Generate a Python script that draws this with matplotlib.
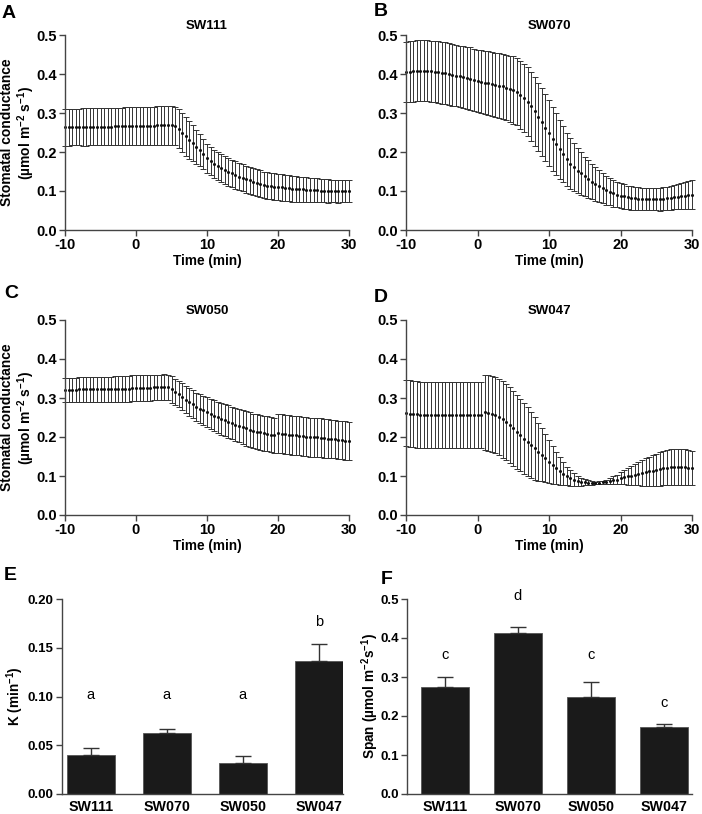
import numpy as np
import matplotlib
matplotlib.use("Agg")
import matplotlib.pyplot as plt
from matplotlib.ticker import FormatStrFormatter

plt.rcParams['font.family'] = ['Liberation Sans', 'DejaVu Sans']
plt.rcParams['font.weight'] = 'bold'
plt.rcParams['mathtext.default'] = 'regular'
plt.rcParams['axes.unicode_minus'] = False

# time axis, one reading every 30 s
time = np.arange(-10, 30.5, 0.5)

# SW111
a_mean = [0.263, 0.263, 0.264, 0.264, 0.264, 0.264, 0.264, 0.265, 0.265, 0.265,
          0.265, 0.265, 0.265, 0.265, 0.266, 0.266, 0.266, 0.266, 0.266, 0.266,
          0.266, 0.267, 0.267, 0.267, 0.267, 0.267, 0.268, 0.268, 0.268, 0.268,
          0.268, 0.266, 0.259, 0.250, 0.240, 0.231, 0.222, 0.213, 0.204, 0.195,
          0.184, 0.176, 0.169, 0.163, 0.158, 0.153, 0.149, 0.145, 0.141, 0.137,
          0.134, 0.130, 0.127, 0.124, 0.121, 0.119, 0.116, 0.114, 0.113, 0.111,
          0.110, 0.109, 0.108, 0.107, 0.106, 0.105, 0.104, 0.104, 0.103, 0.103,
          0.102, 0.102, 0.101, 0.101, 0.100, 0.100, 0.100, 0.099, 0.099, 0.099,
          0.099]
a_err = [0.047, 0.047, 0.047, 0.047, 0.047, 0.048, 0.048, 0.048, 0.048, 0.048,
         0.048, 0.048, 0.048, 0.048, 0.048, 0.048, 0.048, 0.049, 0.049, 0.049,
         0.049, 0.049, 0.049, 0.049, 0.049, 0.049, 0.049, 0.049, 0.049, 0.049,
         0.049, 0.049, 0.050, 0.050, 0.050, 0.048, 0.046, 0.044, 0.041, 0.039,
         0.037, 0.036, 0.036, 0.036, 0.036, 0.036, 0.036, 0.035, 0.035, 0.035,
         0.035, 0.035, 0.035, 0.035, 0.035, 0.035, 0.034, 0.034, 0.034, 0.034,
         0.034, 0.034, 0.033, 0.033, 0.033, 0.033, 0.032, 0.032, 0.032, 0.031,
         0.031, 0.031, 0.030, 0.030, 0.030, 0.029, 0.029, 0.029, 0.028, 0.028,
         0.028]

# SW070
b_mean = [0.405, 0.406, 0.407, 0.408, 0.408, 0.408, 0.408, 0.407, 0.406, 0.405,
          0.403, 0.402, 0.400, 0.398, 0.396, 0.394, 0.392, 0.390, 0.388, 0.385,
          0.382, 0.380, 0.378, 0.376, 0.374, 0.372, 0.370, 0.368, 0.365, 0.362,
          0.359, 0.354, 0.347, 0.339, 0.329, 0.317, 0.304, 0.290, 0.276, 0.262,
          0.248, 0.234, 0.220, 0.207, 0.195, 0.182, 0.170, 0.161, 0.152, 0.145,
          0.138, 0.131, 0.124, 0.118, 0.112, 0.107, 0.102, 0.098, 0.094, 0.091,
          0.088, 0.086, 0.084, 0.082, 0.081, 0.080, 0.079, 0.079, 0.079, 0.079,
          0.079, 0.079, 0.080, 0.081, 0.082, 0.084, 0.085, 0.087, 0.088, 0.090,
          0.091]
b_err = [0.078, 0.078, 0.078, 0.078, 0.078, 0.078, 0.078, 0.078, 0.078, 0.079,
         0.079, 0.079, 0.079, 0.079, 0.079, 0.079, 0.080, 0.080, 0.080, 0.080,
         0.080, 0.081, 0.081, 0.082, 0.082, 0.083, 0.083, 0.084, 0.084, 0.085,
         0.086, 0.086, 0.087, 0.087, 0.088, 0.088, 0.088, 0.088, 0.087, 0.086,
         0.085, 0.082, 0.079, 0.075, 0.072, 0.068, 0.065, 0.061, 0.058, 0.054,
         0.050, 0.048, 0.045, 0.043, 0.041, 0.039, 0.037, 0.035, 0.034, 0.033,
         0.032, 0.031, 0.030, 0.030, 0.029, 0.029, 0.028, 0.028, 0.028, 0.028,
         0.028, 0.029, 0.029, 0.030, 0.030, 0.031, 0.032, 0.033, 0.034, 0.035,
         0.036]

# SW050
c_mean = [0.321, 0.321, 0.321, 0.321, 0.322, 0.322, 0.322, 0.322, 0.322, 0.322,
          0.323, 0.323, 0.323, 0.323, 0.323, 0.324, 0.324, 0.324, 0.324, 0.325,
          0.325, 0.325, 0.326, 0.326, 0.326, 0.327, 0.327, 0.327, 0.328, 0.327,
          0.322, 0.316, 0.310, 0.303, 0.296, 0.290, 0.284, 0.278, 0.273, 0.268,
          0.264, 0.259, 0.255, 0.251, 0.247, 0.243, 0.239, 0.236, 0.232, 0.229,
          0.225, 0.222, 0.219, 0.216, 0.214, 0.212, 0.210, 0.208, 0.206, 0.204,
          0.209, 0.208, 0.207, 0.206, 0.205, 0.204, 0.203, 0.202, 0.201, 0.200,
          0.200, 0.199, 0.198, 0.197, 0.196, 0.195, 0.194, 0.193, 0.192, 0.191,
          0.190]
c_err = [0.031, 0.031, 0.031, 0.031, 0.031, 0.031, 0.032, 0.032, 0.032, 0.032,
         0.032, 0.032, 0.032, 0.032, 0.033, 0.033, 0.033, 0.033, 0.033, 0.033,
         0.033, 0.033, 0.033, 0.033, 0.033, 0.033, 0.033, 0.033, 0.033, 0.033,
         0.034, 0.034, 0.034, 0.035, 0.035, 0.035, 0.036, 0.036, 0.037, 0.037,
         0.038, 0.039, 0.039, 0.040, 0.041, 0.041, 0.042, 0.042, 0.043, 0.043,
         0.043, 0.044, 0.044, 0.044, 0.044, 0.045, 0.045, 0.045, 0.045, 0.045,
         0.050, 0.050, 0.050, 0.050, 0.050, 0.050, 0.050, 0.050, 0.050, 0.050,
         0.050, 0.050, 0.050, 0.050, 0.050, 0.049, 0.049, 0.049, 0.049, 0.049,
         0.049]

# SW047
d_mean = [0.261, 0.260, 0.259, 0.258, 0.257, 0.257, 0.256, 0.256, 0.256, 0.256,
          0.256, 0.256, 0.256, 0.256, 0.256, 0.256, 0.256, 0.257, 0.257, 0.257,
          0.257, 0.257, 0.263, 0.262, 0.259, 0.256, 0.251, 0.245, 0.238, 0.230,
          0.222, 0.213, 0.205, 0.196, 0.188, 0.179, 0.171, 0.162, 0.155, 0.146,
          0.137, 0.128, 0.120, 0.113, 0.106, 0.100, 0.095, 0.091, 0.088, 0.085,
          0.084, 0.083, 0.082, 0.082, 0.083, 0.084, 0.085, 0.087, 0.089, 0.091,
          0.094, 0.097, 0.099, 0.101, 0.103, 0.106, 0.108, 0.110, 0.112, 0.114,
          0.116, 0.118, 0.120, 0.121, 0.122, 0.123, 0.123, 0.123, 0.122, 0.121,
          0.120]
d_err = [0.085, 0.085, 0.085, 0.085, 0.085, 0.085, 0.085, 0.085, 0.085, 0.085,
         0.085, 0.085, 0.085, 0.084, 0.084, 0.084, 0.084, 0.084, 0.084, 0.084,
         0.084, 0.084, 0.097, 0.097, 0.098, 0.098, 0.098, 0.098, 0.097, 0.097,
         0.096, 0.095, 0.093, 0.091, 0.088, 0.084, 0.080, 0.074, 0.068, 0.062,
         0.055, 0.048, 0.041, 0.035, 0.029, 0.024, 0.020, 0.016, 0.013, 0.010,
         0.008, 0.006, 0.004, 0.003, 0.003, 0.004, 0.005, 0.007, 0.010, 0.012,
         0.015, 0.018, 0.021, 0.024, 0.027, 0.030, 0.033, 0.036, 0.038, 0.040,
         0.041, 0.043, 0.044, 0.045, 0.046, 0.047, 0.047, 0.047, 0.046, 0.045,
         0.044]

lines = ['SW111', 'SW070', 'SW050', 'SW047']
k_mean = [0.0395, 0.0629, 0.0320, 0.1368]
k_err = [0.0072, 0.0034, 0.0068, 0.0172]
k_letters = ['a', 'a', 'a', 'b']
k_letter_y = [0.102, 0.102, 0.102, 0.176]
span_mean = [0.2756, 0.414, 0.250, 0.171]
span_err = [0.025, 0.015, 0.038, 0.008]
span_letters = ['c', 'd', 'c', 'c']
span_letter_y = [0.357, 0.508, 0.357, 0.233]

W, H = 702, 814
fig = plt.figure(figsize=(W / 100, H / 100), dpi=100)


def make_ax(l, r, t, b, size):
    ax = fig.add_axes([l / W, 1 - b / H, (r - l) / W, (b - t) / H])
    for s in ['top', 'right']:
        ax.spines[s].set_visible(False)
    for s in ['left', 'bottom']:
        ax.spines[s].set_color('#444444')
        ax.spines[s].set_linewidth(1.0)
    ax.tick_params(direction='out', length=4, width=1.0, color='#444444',
                   labelsize=size, pad=2)
    return ax


def bold_ticks(ax):
    for lab in ax.get_xticklabels() + ax.get_yticklabels():
        lab.set_fontweight('bold')


def label(x, y, text, **kw):
    fig.text(x / W, 1 - y / H, text, fontweight='bold', **kw)


ylab = 'Stomatal conductance\n(µmol m$^{-2}$ s$^{-1}$)'
series = [
    (a_mean, a_err, 'SW111', (65, 349, 35, 230), 'A', (2, 14), True),
    (b_mean, b_err, 'SW070', (406, 692, 35, 230), 'B', (374, 12), False),
    (c_mean, c_err, 'SW050', (65, 349, 320, 515), 'C', (4, 293), True),
    (d_mean, d_err, 'SW047', (406, 692, 320, 515), 'D', (374, 297), False),
]

for mean, err, name, box, letter, lpos, show_ylab in series:
    ax = make_ax(*box, 10.5)
    ax.errorbar(time, mean, yerr=err, fmt='o', ms=1.2, color='#111111',
                ecolor='#333333', elinewidth=0.7, capsize=2.4, capthick=0.7,
                clip_on=False)
    ax.set_xlim(-10, 30)
    ax.set_ylim(0, 0.5)
    ax.set_xticks([-10, 0, 10, 20, 30])
    ax.set_yticks([0, 0.1, 0.2, 0.3, 0.4, 0.5])
    ax.yaxis.set_major_formatter(FormatStrFormatter('%.1f'))
    bold_ticks(ax)
    ax.set_title(name, fontsize=9.5, fontweight='bold', pad=4)
    ax.set_xlabel('Time (min)', fontsize=9.8, fontweight='bold', labelpad=1)
    if show_ylab:
        label(18.5, (box[2] + box[3]) / 2, ylab, fontsize=10, rotation=90,
              ha='center', va='center', linespacing=1.12,
              multialignment='center')
    label(lpos[0], lpos[1], letter, fontsize=14, va='center', ha='left')

x = np.arange(len(lines))

# panel E
ax = make_ax(62, 343, 599, 794, 9.5)
ax.bar(x, k_mean, width=0.63, color='#1a1a1a', edgecolor='#555555',
       linewidth=0.6)
ax.errorbar(x, k_mean, yerr=[[0] * 4, k_err], fmt='none', ecolor='#333333',
            elinewidth=1.0, capsize=6, capthick=1.0)
for xi, lt, ly in zip(x, k_letters, k_letter_y):
    ax.text(xi, ly, lt, ha='center', va='center', fontsize=10.5,
            fontweight='normal')
ax.set_xlim(-0.38, 3.32)
ax.set_ylim(0, 0.2)
ax.set_yticks([0, 0.05, 0.10, 0.15, 0.20])
ax.yaxis.set_major_formatter(FormatStrFormatter('%.2f'))
ax.set_xticks(x)
ax.set_xticklabels(lines, fontsize=10.3)
ax.tick_params(axis='x', length=0, pad=4)
bold_ticks(ax)
label(15, 696, 'K (min$^{-1}$)', fontsize=9.8, rotation=90, ha='center',
      va='center')
label(4, 575, 'E', fontsize=14, va='center', ha='left')

# panel F
ax = make_ax(407, 692, 599, 794, 9.5)
ax.bar(x, span_mean, width=0.66, color='#1a1a1a', edgecolor='#555555',
       linewidth=0.6)
ax.errorbar(x, span_mean, yerr=[[0] * 4, span_err], fmt='none',
            ecolor='#333333', elinewidth=1.0, capsize=6, capthick=1.0)
for xi, lt, ly in zip(x, span_letters, span_letter_y):
    ax.text(xi, ly, lt, ha='center', va='center', fontsize=10.5,
            fontweight='normal', clip_on=False)
ax.set_xlim(-0.52, 3.39)
ax.set_ylim(0, 0.5)
ax.set_yticks([0, 0.1, 0.2, 0.3, 0.4, 0.5])
ax.yaxis.set_major_formatter(FormatStrFormatter('%.1f'))
ax.set_xticks(x)
ax.set_xticklabels(lines, fontsize=10.3)
ax.tick_params(axis='x', length=0, pad=4)
bold_ticks(ax)
label(370, 696, 'Span (µmol m$^{-2}$s$^{-1}$)', fontsize=9.8, rotation=90,
      ha='center', va='center')
label(381, 580, 'F', fontsize=14, va='center', ha='left')

fig.savefig('out.png', dpi=100)
